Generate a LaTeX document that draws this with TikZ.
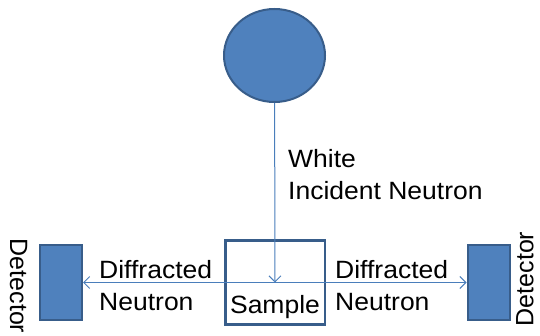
\documentclass[tikz,border=0pt]{standalone}
\usepackage{fontspec}
\setmainfont{Liberation Sans}
\usepackage{tikz}
\usetikzlibrary{shapes.geometric, arrows.meta}
\definecolor{nfill}{HTML}{4F81BD}
\definecolor{nedge}{HTML}{385D8A}
\definecolor{nline}{HTML}{4A7EBB}
\tikzstyle{source} = [ellipse, draw=nedge, fill=nfill, line width=2pt, minimum width=101pt, minimum height=93pt]
\tikzstyle{holder} = [rectangle, draw=nedge, line width=2.5pt, minimum width=99.5pt, minimum height=83.5pt]
\tikzstyle{detector} = [rectangle, draw=nedge, fill=nfill, line width=2pt, minimum width=42pt, minimum height=75pt]
\tikzstyle{arrow} = [line width=1pt, draw=nline, ->, >={Straight Barb[length=6pt,width=12pt]}]
\tikzstyle{txt} = [font=\fontsize{25}{32}\selectfont, inner sep=0pt, align=left]
\tikzstyle{wide} = [xscale=1.06]

\begin{document}
\begin{tikzpicture}[x=1pt,y=-1pt]
\useasboundingbox (0,0) rectangle (540,336);

\node(beam)[source] at (274.5,55.5) {};
\node(sample)[holder] at (275,282.5) {};
\node(ldet)[detector] at (61,282.5) {};
\node(rdet)[detector] at (488.5,282.5) {};

\node(samplelbl)[txt,wide,anchor=base] at (275,313) {Sample};
\node(incident)[txt,wide,anchor=north west] at (288,149) {White\\Incident Neutron};
\node(ldiff)[txt,wide,anchor=north west] at (99,260) {Diffracted\\Neutron};
\node(rdiff)[txt,wide,anchor=north west] at (335,260) {Diffracted\\Neutron};
\node(ltxt)[txt,rotate=-90] at (18.5,286) {Detector};
\node(rtxt)[txt,rotate=90] at (525,279) {Detector};

\draw [arrow] (beam) -- (sample.center);
\draw [arrow] (sample.center) -- (ldet);
\draw [arrow] (sample.center) -- (rdet);
\end{tikzpicture}
\end{document}
